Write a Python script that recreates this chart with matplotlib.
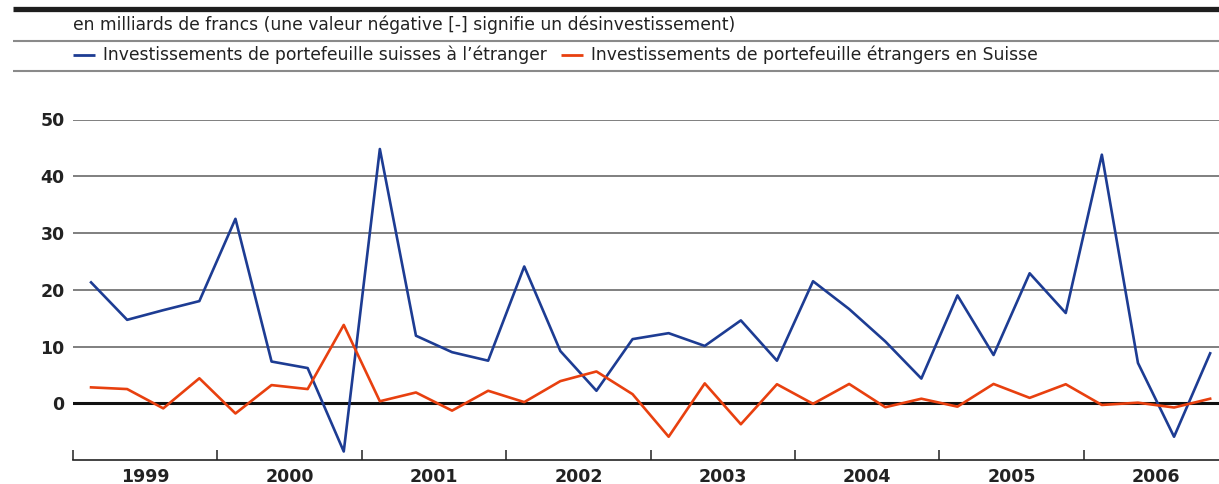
import matplotlib
matplotlib.use("Agg")
import matplotlib.pyplot as plt
from matplotlib.lines import Line2D
import numpy as np

plt.rcParams['font.family'] = ['DejaVu Sans']

years = ['1999', '2000', '2001', '2002', '2003', '2004', '2005', '2006']
swiss_abroad = [21.3, 14.7, 16.4, 18.0, 32.5, 7.35, 6.2, -8.5,
                44.8, 11.9, 9.0, 7.5, 24.1, 9.2, 2.2, 11.3,
                12.35, 10.1, 14.6, 7.5, 21.5, 16.6, 10.9, 4.35,
                19.0, 8.5, 22.9, 15.9, 43.8, 7.1, -5.9, 8.8]
foreign_swiss = [2.8, 2.5, -0.9, 4.4, -1.8, 3.2, 2.5, 13.8,
                 0.35, 1.9, -1.3, 2.2, 0.2, 3.9, 5.6, 1.6,
                 -5.9, 3.5, -3.7, 3.35, -0.1, 3.4, -0.7, 0.8,
                 -0.6, 3.4, 0.95, 3.35, -0.3, 0.1, -0.75, 0.8]
yticks = [0, 10, 20, 30, 40, 50]
subtitle = "en milliards de francs (une valeur négative [-] signifie un désinvestissement)"
label_blue = "Investissements de portefeuille suisses à l’étranger"
label_red = "Investissements de portefeuille étrangers en Suisse"

BLUE = '#1d3c93'
RED = '#e8400f'
TXT = '#222222'
W, H = 1219, 484
fig = plt.figure(figsize=(W / 100, H / 100), dpi=100)

def fx(px):
    return px / W

def fy(py):
    return 1 - py / H

# header rules
fig.add_artist(Line2D([fx(13), 1], [fy(8.5), fy(8.5)], color='#1e1e1e', lw=3.8, solid_capstyle='butt'))
fig.add_artist(Line2D([fx(13), 1], [fy(41), fy(41)], color='#8a8a8a', lw=1.5, solid_capstyle='butt'))
fig.add_artist(Line2D([fx(13), 1], [fy(70.7), fy(70.7)], color='#8a8a8a', lw=1.5, solid_capstyle='butt'))
fig.text(fx(73), fy(25), subtitle, fontsize=12.35, color=TXT, va='center', ha='left')
fig.add_artist(Line2D([fx(73), fx(95)], [fy(55), fy(55)], color=BLUE, lw=2.0, solid_capstyle='butt'))
fig.text(fx(103), fy(55), label_blue, fontsize=12.3, color=TXT, va='center', ha='left')
fig.add_artist(Line2D([fx(561), fx(583)], [fy(55), fy(55)], color=RED, lw=2.0, solid_capstyle='butt'))
fig.text(fx(591), fy(55), label_red, fontsize=12.3, color=TXT, va='center', ha='left')

left, right, bottom, top = 73, 1219, 460, 119.5
ax = fig.add_axes([fx(left), fy(bottom), fx(right - left), fy(top) - fy(bottom)])
n = len(swiss_abroad)
x = np.arange(n) + 0.5
qw = 36.1
ax.set_xlim(0, (right - left) / qw)
ax.set_ylim(-10, 50)

for v in yticks[1:]:
    ax.axhline(v, color='#6a6a6a', lw=1.2, zorder=1)
ax.axhline(0, color='#111111', lw=2.2, zorder=1)

ax.plot(x, swiss_abroad, color=BLUE, lw=1.9, zorder=3, clip_on=False)
ax.plot(x, foreign_swiss, color=RED, lw=1.9, zorder=3, clip_on=False)

for s in ['top', 'right', 'left']:
    ax.spines[s].set_visible(False)
ax.spines['bottom'].set_color(TXT)
ax.spines['bottom'].set_linewidth(1.2)

ax.set_yticks(yticks)
ax.set_yticklabels([str(v) for v in yticks], fontsize=12.5, fontweight='bold', color=TXT)
ax.tick_params(axis='y', length=0, pad=6)

ax.set_xticks(np.arange(0, 4 * len(years), 4))
ax.set_xticklabels([])
ax.tick_params(axis='x', direction='in', length=7, width=1.1, color=TXT)
ax.set_xticks(np.arange(len(years)) * 4 + 2, minor=True)
ax.set_xticklabels(years, minor=True, fontsize=12.5, fontweight='bold', color=TXT)
ax.tick_params(axis='x', which='minor', length=0, pad=6)

fig.savefig('out.png', dpi=100)
